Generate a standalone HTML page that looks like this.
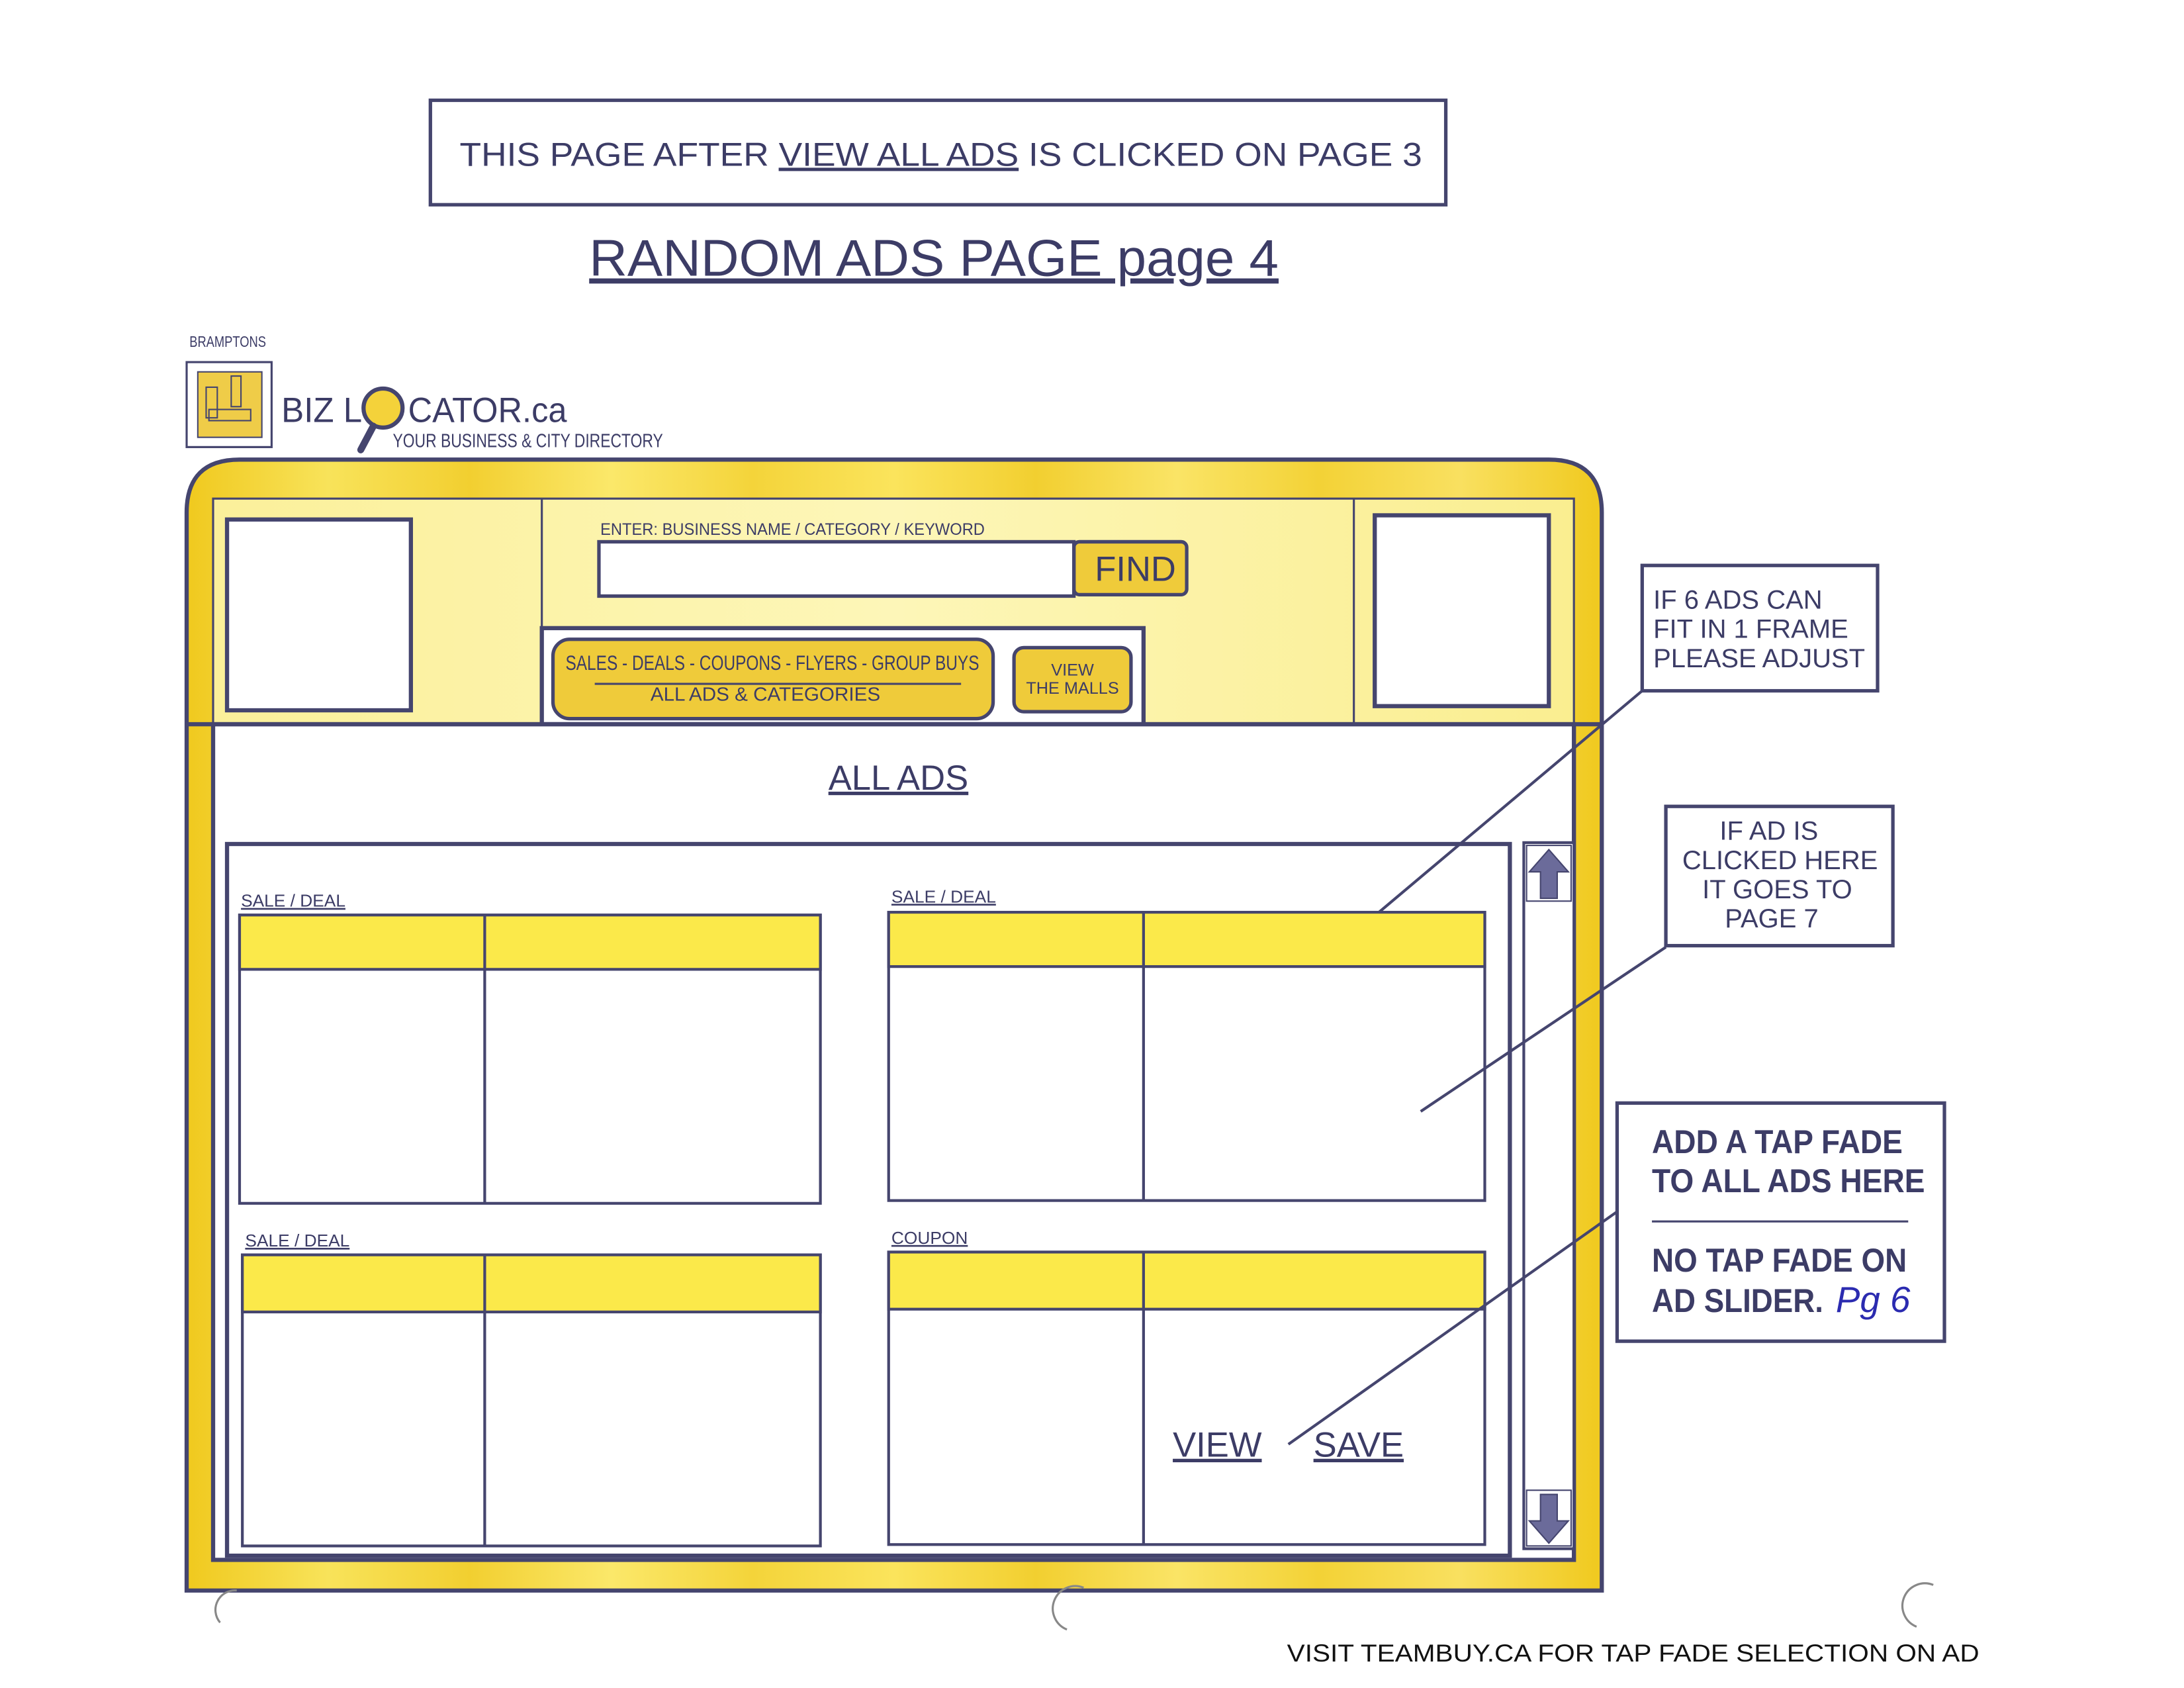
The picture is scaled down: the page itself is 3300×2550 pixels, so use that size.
<!DOCTYPE html>
<html><head><meta charset="utf-8"><style>
html,body{margin:0;padding:0;background:#fff;}
svg{display:block;}
text{font-family:"Liberation Sans",sans-serif;fill:#3c3c66;}
</style></head><body>
<svg width="3300" height="2550" viewBox="0 0 1568 1212" preserveAspectRatio="none" xmlns="http://www.w3.org/2000/svg">
<defs>
<linearGradient id="yel" x1="0" x2="1" y1="0" y2="0">
<stop offset="0" stop-color="#f0c91e"/><stop offset="0.1" stop-color="#f8e35a"/><stop offset="0.2" stop-color="#f2cf30"/><stop offset="0.3" stop-color="#fbe86a"/><stop offset="0.4" stop-color="#f4d43a"/><stop offset="0.5" stop-color="#fbe45c"/><stop offset="0.6" stop-color="#f2cf30"/><stop offset="0.7" stop-color="#fae466"/><stop offset="0.8" stop-color="#f3d236"/><stop offset="0.9" stop-color="#f9e060"/><stop offset="1" stop-color="#f0c91e"/>
</linearGradient>
<linearGradient id="lyel" x1="0" x2="1"><stop offset="0" stop-color="#fbf09a"/><stop offset="0.5" stop-color="#fdf6b8"/><stop offset="1" stop-color="#faee90"/></linearGradient>
</defs>
<rect x="309" y="72" width="729" height="75" stroke-width="2.5" stroke="#45456e" fill="none"/>
<text x="330" y="119" font-size="24" textLength="691" lengthAdjust="spacingAndGlyphs">THIS PAGE AFTER <tspan text-decoration="underline">VIEW ALL ADS</tspan> IS CLICKED ON PAGE 3</text>
<text x="423" y="198" font-size="37" text-decoration="underline" textLength="495" lengthAdjust="spacingAndGlyphs">RANDOM ADS PAGE page 4</text>

<text x="136" y="249" font-size="11" textLength="55" lengthAdjust="spacingAndGlyphs">BRAMPTONS</text>
<rect x="134" y="260" width="61" height="61" fill="#fff" stroke="#45456e" stroke-width="1.5"/>
<rect x="142" y="267" width="46" height="47" fill="#efcc48" stroke="#45456e" stroke-width="1"/>
<path d="M148 278 h8 v22 h-8 z M166 270 h7 v22 h-7 z M150 294 h30 v8 h-30 z" fill="none" stroke="#45456e" stroke-width="1"/>
<text x="202" y="303" font-size="25" textLength="58" lengthAdjust="spacingAndGlyphs">BIZ L</text>
<text x="293" y="303" font-size="25" textLength="114" lengthAdjust="spacingAndGlyphs">CATOR.ca</text>
<circle cx="275" cy="293" r="14" fill="#f4d23a" stroke="#45456e" stroke-width="3"/>
<line x1="268" y1="306" x2="259" y2="323" stroke="#45456e" stroke-width="5" stroke-linecap="round"/>
<text x="282" y="321" font-size="13.5" textLength="194" lengthAdjust="spacingAndGlyphs">YOUR BUSINESS &amp; CITY DIRECTORY</text>

<path d="M134 1142 V368 Q134 330 172 330 H1112 Q1150 330 1150 368 V1142 Z" fill="url(#yel)" stroke="#45456e" stroke-width="3"/>
<rect x="153" y="358" width="977" height="162" fill="url(#lyel)" stroke="#45456e" stroke-width="1.5"/>
<line x1="389" y1="358" x2="389" y2="520" stroke="#45456e" stroke-width="1.5"/>
<line x1="972" y1="358" x2="972" y2="520" stroke="#45456e" stroke-width="1.5"/>
<rect x="163" y="373" width="132" height="137" fill="#fff" stroke="#45456e" stroke-width="3"/>
<rect x="987" y="370" width="125" height="137" fill="#fff" stroke="#45456e" stroke-width="3"/>
<text x="431" y="384" font-size="12" textLength="276" lengthAdjust="spacingAndGlyphs">ENTER: BUSINESS NAME / CATEGORY / KEYWORD</text>
<rect x="771" y="389" width="81" height="38" rx="4" fill="#efcb3a" stroke="#45456e" stroke-width="2.5"/>
<rect x="430" y="389" width="341" height="39" fill="#fff" stroke="#45456e" stroke-width="2.5"/>
<text x="786" y="417" font-size="25">FIND</text>
<rect x="389" y="451" width="432" height="69" fill="#fff" stroke="#45456e" stroke-width="3"/>
<rect x="397" y="459" width="316" height="57" rx="12" fill="#efcb3a" stroke="#45456e" stroke-width="2.5"/>
<text x="406" y="481" font-size="15" textLength="297" lengthAdjust="spacingAndGlyphs">SALES - DEALS - COUPONS - FLYERS - GROUP BUYS</text>
<line x1="427" y1="491" x2="690" y2="491" stroke="#45456e" stroke-width="1.5"/>
<text x="467" y="503" font-size="13.5" textLength="165" lengthAdjust="spacingAndGlyphs">ALL ADS &amp; CATEGORIES</text>
<rect x="728" y="465" width="84" height="46" rx="7" fill="#efcb3a" stroke="#45456e" stroke-width="2.5"/>
<text x="770" y="485" font-size="12" text-anchor="middle">VIEW</text>
<text x="770" y="498" font-size="12" text-anchor="middle">THE MALLS</text>

<rect x="153" y="520" width="977" height="600" fill="#fff" stroke="#45456e" stroke-width="3"/>
<line x1="134" y1="520" x2="1150" y2="520" stroke="#45456e" stroke-width="3"/>
<text x="645" y="567" font-size="25" text-anchor="middle" text-decoration="underline">ALL ADS</text>
<rect x="163" y="606" width="921" height="511" fill="#fff" stroke="#45456e" stroke-width="3"/>
<rect x="1094" y="605" width="36" height="507" fill="#fff" stroke="#45456e" stroke-width="2"/>
<rect x="1096" y="607" width="32" height="40" fill="#fff" stroke="#45456e" stroke-width="1"/>
<rect x="1096" y="1070" width="32" height="40" fill="#fff" stroke="#45456e" stroke-width="1"/>
<path d="M1112 610 L1126 626 H1118 V645 H1106 V626 H1098 Z" fill="#6b6b9a" stroke="#45456e"/>
<path d="M1112 1108 L1126 1092 H1118 V1073 H1106 V1092 H1098 Z" fill="#6b6b9a" stroke="#45456e"/>

<g stroke="#45456e" stroke-width="2">
<rect x="172" y="657" width="417" height="207" fill="#fff"/>
<rect x="172" y="657" width="417" height="39" fill="#fbe94a"/>
<line x1="348" y1="657" x2="348" y2="864"/>
<rect x="638" y="655" width="428" height="207" fill="#fff"/>
<rect x="638" y="655" width="428" height="39" fill="#fbe94a"/>
<line x1="821" y1="655" x2="821" y2="862"/>
<rect x="174" y="901" width="415" height="209" fill="#fff"/>
<rect x="174" y="901" width="415" height="41" fill="#fbe94a"/>
<line x1="348" y1="901" x2="348" y2="1110"/>
<rect x="638" y="899" width="428" height="210" fill="#fff"/>
<rect x="638" y="899" width="428" height="41" fill="#fbe94a"/>
<line x1="821" y1="899" x2="821" y2="1109"/>
</g>
<text x="173" y="651" font-size="12.5" text-decoration="underline">SALE / DEAL</text>
<text x="640" y="648" font-size="12.5" text-decoration="underline">SALE / DEAL</text>
<text x="176" y="895" font-size="12.5" text-decoration="underline">SALE / DEAL</text>
<text x="640" y="893" font-size="12.5" text-decoration="underline">COUPON</text>
<text x="842" y="1046" font-size="25" text-decoration="underline">VIEW </text>
<text x="943" y="1046" font-size="25" text-decoration="underline">SAVE</text>

<g stroke="#45456e" stroke-width="2.5" fill="#fff">
<rect x="1179" y="406" width="169" height="90"/>
<rect x="1196" y="579" width="163" height="100"/>
<rect x="1161" y="792" width="235" height="171"/>
</g>
<g stroke="#45456e" stroke-width="2">
<line x1="1179" y1="496" x2="990" y2="655"/>
<line x1="1196" y1="680" x2="1020" y2="798"/>
<line x1="1161" y1="870" x2="925" y2="1037"/>
<line x1="1186" y1="877" x2="1370" y2="877" stroke-width="1.5"/>
</g>
<text x="1187" y="437" font-size="19">IF 6 ADS CAN</text>
<text x="1187" y="458" font-size="19">FIT IN 1 FRAME</text>
<text x="1187" y="479" font-size="19">PLEASE ADJUST</text>
<g font-size="19" text-anchor="middle">
<text x="1270" y="603">IF AD IS</text>
<text x="1278" y="624">CLICKED HERE</text>
<text x="1276" y="645">IT GOES TO</text>
<text x="1272" y="666">PAGE 7</text>
</g>
<g font-size="24" font-weight="bold">
<text x="1186" y="828" textLength="180" lengthAdjust="spacingAndGlyphs">ADD A TAP FADE</text>
<text x="1186" y="856" textLength="196" lengthAdjust="spacingAndGlyphs">TO ALL ADS HERE</text>
<text x="1186" y="913" textLength="183" lengthAdjust="spacingAndGlyphs">NO TAP FADE ON</text>
<text x="1186" y="942" textLength="123" lengthAdjust="spacingAndGlyphs">AD SLIDER.</text>
</g>
<text x="1318" y="942" font-size="26" font-style="italic" style="fill:#2b2bb0">Pg 6</text>

<text x="924" y="1193" font-size="17.5" style="fill:#111" textLength="497" lengthAdjust="spacingAndGlyphs">VISIT TEAMBUY.CA FOR TAP FADE SELECTION ON AD</text>
<path d="M170 1142 A14 14 0 0 0 158 1165" fill="none" stroke="#888" stroke-width="1.5"/>
<path d="M778 1140 A14 14 0 0 0 766 1170" fill="none" stroke="#888" stroke-width="1.5"/>
<path d="M1388 1138 A14 14 0 0 0 1376 1168" fill="none" stroke="#888" stroke-width="1.5"/>
</svg>
</body></html>
